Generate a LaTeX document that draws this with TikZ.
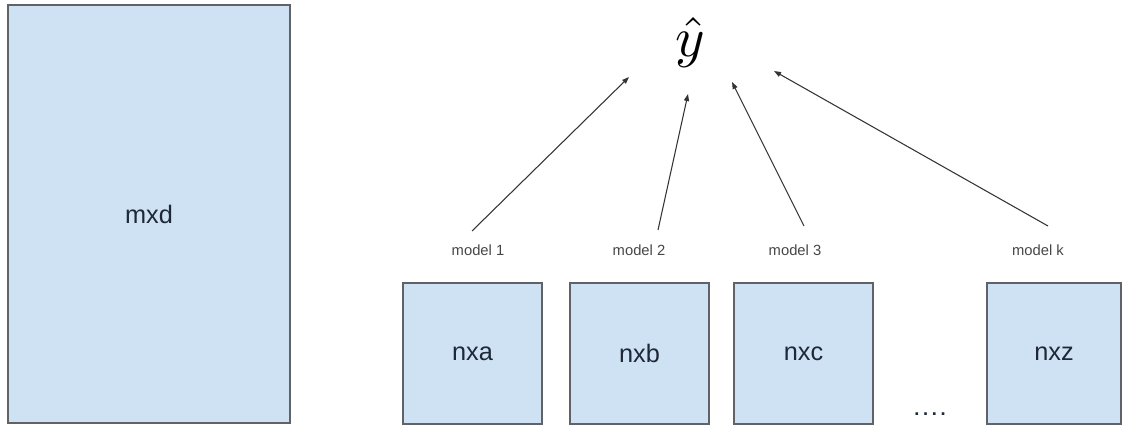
\documentclass[tikz,border=0pt]{standalone}
\usepackage{fontspec}
\setmainfont{Liberation Sans}
\usepackage{xcolor}
\definecolor{boxFill}{RGB}{207, 226, 243}
\definecolor{boxEdge}{RGB}{95, 99, 104}
\definecolor{boxText}{RGB}{30, 40, 56}
\definecolor{arrowDark}{RGB}{51, 51, 51}
\definecolor{labelGrey}{RGB}{70, 70, 70}
\usepackage{tikz}
\usetikzlibrary{arrows.meta, positioning, calc}

\begin{document}
\begin{tikzpicture}[
    x=0.025cm, y=-0.025cm,
    dataBox/.style={
        rectangle, draw=boxEdge, line width=1pt,
        fill=boxFill, text=boxText,
        font=\fontsize{18}{20}\selectfont,
        inner sep=0pt
    },
    subBox/.style={
        dataBox, minimum width=3.475cm, minimum height=3.525cm
    },
    modelLabel/.style={
        font=\fontsize{10.5}{12}\selectfont, text=labelGrey, inner sep=1pt
    },
    voteArrow/.style={
        -{Triangle[length=5pt, width=3.6pt]}, line width=0.75pt, draw=arrowDark
    }
]
    \useasboundingbox (0,0) rectangle (1123,427);

    % Full data set
    \node[dataBox, minimum width=7.05cm, minimum height=10.45cm] (full) at (149, 214) {mxd};

    % Sampled subsets
    \node[subBox] (nxa) at (472.5, 353.5) {nxa};
    \node[subBox] (nxb) at (639.5, 353.5) {nxb};
    \node[subBox] (nxc) at (803.5, 353.5) {nxc};
    \node[subBox, minimum width=3.35cm] (nxz) at (1054, 353.5) {nxz};
    \node[font=\fontsize{13}{14}\bfseries, text=boxText] (dots) at (930, 414) {.\hspace{2.6pt}.\hspace{2.6pt}.\hspace{2.6pt}.};

    % Model labels
    \node[modelLabel] (m1) at (478, 250) {model 1};
    \node[modelLabel] (m2) at (639, 250) {model 2};
    \node[modelLabel] (m3) at (795, 250) {model 3};
    \node[modelLabel] (mk) at (1038, 250) {model k};

    % Aggregated prediction
    \node[text=black, inner sep=0pt] (yhat) at (690, 42) {\scalebox{4}{$\hat{y}$}};

    % Votes
    \draw[voteArrow] ($(m1)+(-6,-19)$) -- ($(yhat)+(-61,35)$);
    \draw[voteArrow] ($(m2)+(19,-20)$) -- ($(yhat)+(-2,52)$);
    \draw[voteArrow] ($(m3)+(9,-24)$) -- ($(yhat)+(42,40)$);
    \draw[voteArrow] ($(mk)+(10,-24)$) -- ($(yhat)+(84,29)$);

\end{tikzpicture}
\end{document}
